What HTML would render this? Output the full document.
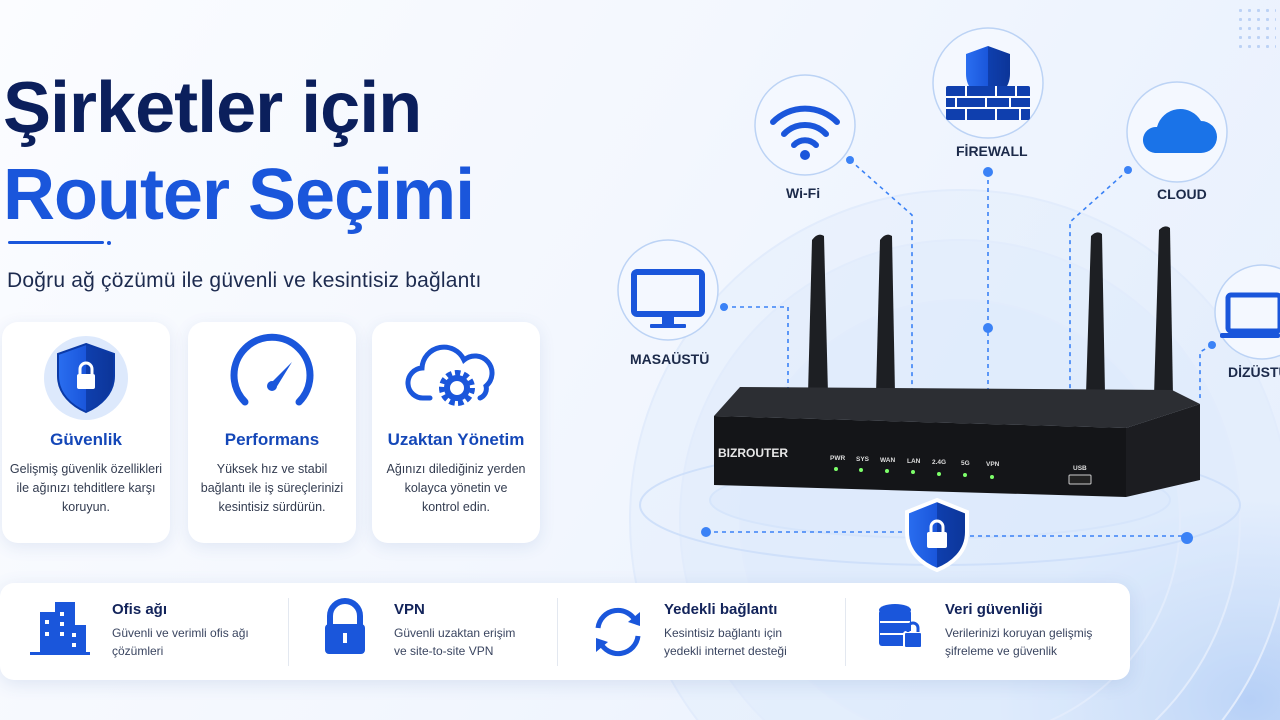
<!DOCTYPE html>
<html style="width:1280px;height:720px;overflow:hidden"><head><meta charset="utf-8"><style>
*{margin:0;padding:0;box-sizing:border-box}
body{width:1280px;height:720px;overflow:hidden;font-family:"Liberation Sans",sans-serif;background:radial-gradient(ellipse 260px 200px at 1250px 700px,rgba(170,200,245,.8),rgba(170,200,245,0)),linear-gradient(120deg,#fbfcff 0%,#f3f7fe 45%,#e6effd 100%);position:relative}
#wrap{position:absolute;left:0;top:0;width:1280px;height:720px;overflow:hidden}
.abs{position:absolute}
h1{position:absolute;left:3px;font-weight:700;font-size:72px;letter-spacing:-1px;line-height:1;white-space:nowrap}
.card{position:absolute;top:322px;width:168px;height:221px;background:#fff;border-radius:16px;box-shadow:0 4px 16px rgba(40,80,160,.10);text-align:center}
.card h3{position:absolute;top:108px;width:100%;font-size:17px;color:#1447b8;font-weight:700}
.card p{position:absolute;top:138px;width:100%;font-size:12.5px;line-height:19px;color:#333c50}
.bar{position:absolute;left:0;top:583px;width:1130px;height:97px;background:#fff;border-radius:14px;box-shadow:0 4px 18px rgba(40,80,160,.12)}
.it h4{position:absolute;font-size:15px;color:#12235a;font-weight:700}
.it p{position:absolute;font-size:12px;line-height:18px;color:#3a4560}
.div{position:absolute;top:598px;width:1px;height:68px;background:#e3e8f0}
.lbl{position:absolute;font-size:14px;font-weight:700;color:#1c2a4a;white-space:nowrap}
</style></head><body><div id="wrap">
<h1 style="top:72px;color:#0b1f5c">Şirketler için</h1>
<h1 style="top:159px;color:#1a56db">Router Seçimi</h1>
<div class="abs" style="left:8px;top:241px;width:96px;height:3px;background:#1a56db;border-radius:2px"></div>
<div class="abs" style="left:107px;top:241px;width:4px;height:4px;background:#1a56db;border-radius:2px"></div>
<div class="abs" style="left:7px;top:269px;font-size:21px;letter-spacing:.2px;color:#1d2b4f;white-space:nowrap">Doğru ağ çözümü ile güvenli ve kesintisiz bağlantı</div>

<svg class="abs" style="left:0;top:0" width="1280" height="720" viewBox="0 0 1280 720">
<g fill="rgba(215,230,252,.25)" stroke="#e2ecfc" stroke-width="2">
<circle cx="960" cy="520" r="330"/><circle cx="960" cy="520" r="280"/><circle cx="960" cy="520" r="220"/></g>
</svg>

<div class="card" style="left:2px"><h3>Güvenlik</h3><p>Gelişmiş güvenlik özellikleri<br>ile ağınızı tehditlere karşı<br>koruyun.</p></div>
<div class="card" style="left:188px"><h3>Performans</h3><p>Yüksek hız ve stabil<br>bağlantı ile iş süreçlerinizi<br>kesintisiz sürdürün.</p></div>
<div class="card" style="left:372px"><h3>Uzaktan Yönetim</h3><p>Ağınızı dilediğiniz yerden<br>kolayca yönetin ve<br>kontrol edin.</p></div>

<div class="bar"></div>
<div class="div" style="left:288px"></div><div class="div" style="left:557px"></div><div class="div" style="left:845px"></div>
<div class="it"><h4 style="left:112px;top:601px">Ofis ağı</h4><p style="left:112px;top:624px">Güvenli ve verimli ofis ağı<br>çözümleri</p></div>
<div class="it"><h4 style="left:394px;top:601px">VPN</h4><p style="left:394px;top:624px">Güvenli uzaktan erişim<br>ve site-to-site VPN</p></div>
<div class="it"><h4 style="left:664px;top:601px">Yedekli bağlantı</h4><p style="left:664px;top:624px">Kesintisiz bağlantı için<br>yedekli internet desteği</p></div>
<div class="it"><h4 style="left:945px;top:601px">Veri güvenliği</h4><p style="left:945px;top:624px">Verilerinizi koruyan gelişmiş<br>şifreleme ve güvenlik</p></div>

<svg class="abs" style="left:0;top:0" width="1280" height="720" viewBox="0 0 1280 720">
<defs>
<linearGradient id="sh" x1="0" x2="1"><stop offset="0" stop-color="#2a6ef0"/><stop offset=".5" stop-color="#1a56db"/><stop offset=".5" stop-color="#0f3fae"/><stop offset="1" stop-color="#0c3598"/></linearGradient>
</defs>
<circle cx="86" cy="378" r="42" fill="#dde9fc"/>
<path d="M86 344 l28 10 v22 c0 18-14 30-28 36 c-14-6-28-18-28-36 v-22z" fill="url(#sh)" stroke="#0b3aa6" stroke-width="2"/>
<rect x="77" y="374" width="18" height="15" rx="2" fill="#fff"/><path d="M80 374 v-5 a6 6 0 0 1 12 0 v5" fill="none" stroke="#fff" stroke-width="3"/>
<path d="M245 402 a38 38 0 1 1 54 0" fill="none" stroke="#1a56db" stroke-width="7" stroke-linecap="round"/>
<path d="M270 384 l22-22 l-16 26z" fill="#1a56db"/><circle cx="272" cy="386" r="5" fill="#1a56db"/>
<path d="M430 398 h-6 a15 15 0 0 1 -2-30 a22 22 0 0 1 42-8 a17 17 0 0 1 22 26 a10 10 0 0 1 -6 12" fill="none" stroke="#1a56db" stroke-width="5" stroke-linecap="round"/>
<circle cx="457" cy="388" r="14" fill="none" stroke="#1a56db" stroke-width="8" stroke-dasharray="5 3"/><circle cx="457" cy="388" r="10" fill="none" stroke="#1a56db" stroke-width="6"/>
<g fill="#1a56db"><rect x="40" y="612" width="28" height="42"/><rect x="55" y="602" width="20" height="52"/><rect x="66" y="625" width="20" height="29"/><rect x="30" y="652" width="60" height="3"/></g>
<g fill="#fff"><rect x="45" y="620" width="4" height="4"/><rect x="60" y="612" width="4" height="4"/><rect x="60" y="622" width="4" height="4"/><rect x="45" y="632" width="4" height="4"/><rect x="60" y="632" width="4" height="4"/><rect x="72" y="633" width="4" height="4"/><rect x="72" y="643" width="4" height="4"/></g>
<path d="M330 626 v-10 a15 15 0 0 1 30 0 v10" fill="none" stroke="#1a56db" stroke-width="6"/><rect x="325" y="624" width="40" height="30" rx="4" fill="#1a56db"/><rect x="343" y="633" width="4" height="10" fill="#fff"/>
<path d="M598 628 a20 20 0 0 1 38-6" fill="none" stroke="#1a56db" stroke-width="5"/><path d="M640 612 l0 14 l-12-4z" fill="#1a56db"/>
<path d="M638 636 a20 20 0 0 1 -38 6" fill="none" stroke="#1a56db" stroke-width="5"/><path d="M596 652 l0-14 l12 4z" fill="#1a56db"/>
<g fill="#1a56db"><ellipse cx="895" cy="610" rx="16" ry="6"/><rect x="879" y="610" width="32" height="36" rx="3"/></g>
<path d="M880 622 h30 M880 634 h30" stroke="#fff" stroke-width="2"/>
<rect x="904" y="632" width="18" height="16" rx="2" fill="#1a56db" stroke="#fff" stroke-width="2"/><path d="M908 632 v-4 a5 5 0 0 1 10 0 v4" fill="none" stroke="#1a56db" stroke-width="3"/>
<ellipse cx="940" cy="505" rx="300" ry="60" fill="none" stroke="#cfe0fa" stroke-width="2"/>
<ellipse cx="940" cy="500" rx="230" ry="38" fill="rgba(220,234,252,.6)" stroke="#d6e5fb" stroke-width="2"/>
<g fill="none" stroke="#3b82f6" stroke-width="1.6" stroke-dasharray="4 4">
<path d="M850 160 L912 215 V395"/><path d="M988 172 V395"/><path d="M1128 170 L1070 222 V395"/>
<path d="M724 307 H788 V395"/><path d="M1212 345 L1200 352 V398"/>
<path d="M706 532 H905"/><path d="M970 536 H1187"/>
</g>
<g fill="#3b82f6"><circle cx="850" cy="160" r="4"/><circle cx="988" cy="172" r="5"/><circle cx="988" cy="328" r="5"/><circle cx="1128" cy="170" r="4"/><circle cx="724" cy="307" r="4"/><circle cx="1212" cy="345" r="4"/><circle cx="706" cy="532" r="5"/><circle cx="1187" cy="538" r="6"/></g>
<g fill="#1d1f23"><path d="M812 240 q6-8 12-4 l4 158 h-20z"/><path d="M880 240 q6-8 12-4 l3 158 h-19z"/><path d="M1091 236 q6-6 11-2 l3 160 h-19z"/><path d="M1159 230 q6-6 11-2 l3 168 h-19z"/></g>
<path d="M740 387 L1172 390 L1200 404 L1126 428 L714 416z" fill="#2c2e33"/>
<path d="M714 416 L1126 428 L1126 497 L714 485z" fill="#141518"/>
<path d="M1126 428 L1200 404 L1200 480 L1126 497z" fill="#1c1d21"/>
<text x="718" y="457" font-size="12" font-weight="700" fill="#e8e8e8">BIZROUTER</text>
<g font-size="6.5" fill="#ddd" font-weight="700"><text x="830" y="460">PWR</text><text x="856" y="461">SYS</text><text x="880" y="462">WAN</text><text x="907" y="463">LAN</text><text x="932" y="464">2.4G</text><text x="961" y="465">5G</text><text x="986" y="466">VPN</text><text x="1073" y="470">USB</text></g>
<g fill="#7dff6a"><circle cx="836" cy="469" r="2"/><circle cx="861" cy="470" r="2"/><circle cx="887" cy="471" r="2"/><circle cx="913" cy="472" r="2"/><circle cx="939" cy="474" r="2"/><circle cx="965" cy="475" r="2"/><circle cx="992" cy="477" r="2"/></g>
<rect x="1069" y="475" width="22" height="9" rx="1" fill="#222" stroke="#ccc" stroke-width="1"/>
<path d="M937 500 l30 12 v20 c0 20-15 32-30 38 c-15-6-30-18-30-38 v-20z" fill="url(#sh)" stroke="#fff" stroke-width="4"/>
<rect x="927" y="532" width="20" height="16" rx="2" fill="#fff"/><path d="M931 532 v-5 a6 6 0 0 1 12 0 v5" fill="none" stroke="#fff" stroke-width="3"/>
<g fill="#f4f8ff" stroke="#bcd3f5" stroke-width="1.5">
<circle cx="805" cy="125" r="50"/><circle cx="988" cy="83" r="55"/><circle cx="1177" cy="132" r="50"/><circle cx="668" cy="290" r="50"/><circle cx="1262" cy="312" r="47"/></g>
<g fill="none" stroke="#1a56db" stroke-width="6" stroke-linecap="round"><path d="M773 122 a45 45 0 0 1 64 0"/><path d="M784 134 a29 29 0 0 1 42 0"/><path d="M794 145 a15 15 0 0 1 22 0"/></g><circle cx="805" cy="155" r="5" fill="#1a56db"/>
<path d="M988 46 l22 8 v20 c0 14-10 22-22 28 c-12-6-22-14-22-28 v-20z" fill="url(#sh)"/>
<g fill="#0f3fae"><rect x="946" y="86" width="84" height="34" rx="2"/></g>
<g stroke="#fff" stroke-width="2"><path d="M946 97 H1030 M946 108 H1030"/><path d="M966 86 V97 M996 86 V97 M1016 86 V97 M956 97 V108 M986 97 V108 M1010 97 V108 M966 108 V120 M996 108 V120 M1020 108 V120"/></g>
<path d="M1155 153 h46 a16 16 0 0 0 0-32 a24 24 0 0 0 -44 6 a13 13 0 0 0 -2 26z" fill="#1a73e8"/>
<rect x="634" y="272" width="68" height="42" rx="3" fill="none" stroke="#1a56db" stroke-width="6"/><rect x="662" y="316" width="12" height="8" fill="#1a56db"/><rect x="650" y="324" width="36" height="4" rx="1" fill="#1a56db"/>
<rect x="1228" y="295" width="52" height="36" rx="3" fill="none" stroke="#1a56db" stroke-width="5"/><rect x="1220" y="333" width="60" height="5" rx="2" fill="#1a56db"/>
</svg>
<div class="lbl" style="left:786px;top:185px">Wi-Fi</div>
<div class="lbl" style="left:956px;top:143px">FİREWALL</div>
<div class="lbl" style="left:1157px;top:186px">CLOUD</div>
<div class="lbl" style="left:630px;top:351px">MASAÜSTÜ</div>
<div class="lbl" style="left:1228px;top:364px;width:52px;overflow:hidden">DİZÜSTÜ</div>
<div class="abs" style="left:1236px;top:6px;width:40px;height:46px;background-image:radial-gradient(#bcd2f5 1.5px,transparent 1.6px);background-size:9px 9px"></div>
</div></body></html>
